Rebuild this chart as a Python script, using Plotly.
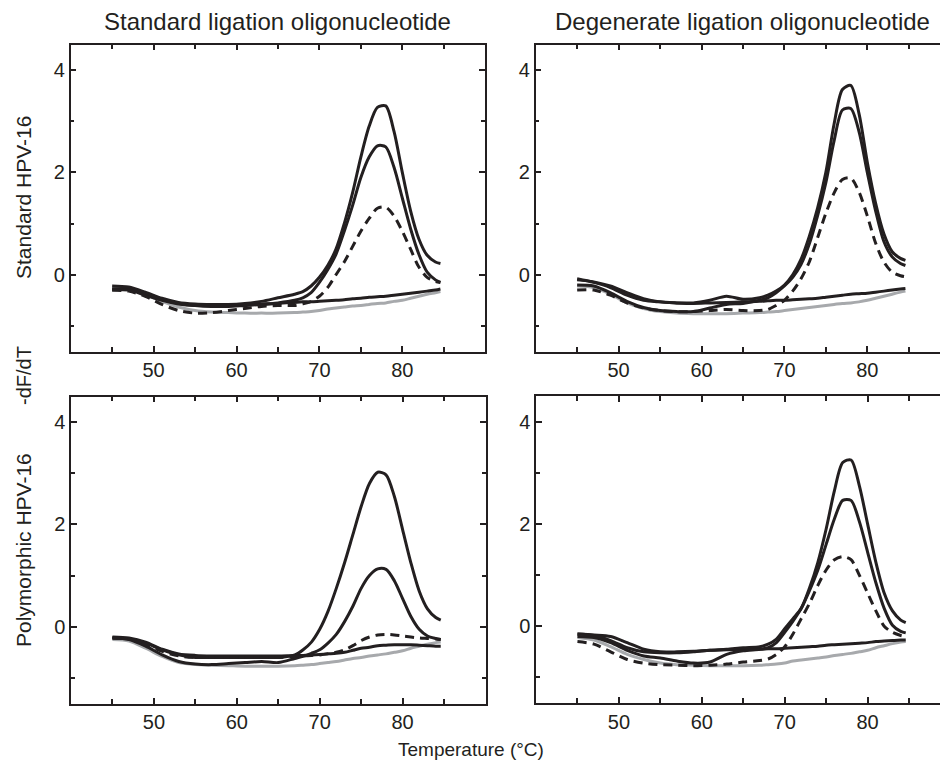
import plotly.graph_objects as go

# shared temperature grid (°C)
temps = [45, 47, 49, 51, 53, 55, 57, 59, 61, 63, 65, 67, 68, 69, 70, 71, 72, 73, 74, 75,
         76, 77, 78, 79, 80, 81, 82, 83, 84, 84.6]

col_titles = ["Standard ligation oligonucleotide", "Degenerate ligation oligonucleotide"]
row_titles = ["Standard HPV-16", "Polymorphic HPV-16"]
x_ticks = [50, 60, 70, 80]
x_minor = [45, 55, 65, 75, 85]
y_ticks = [0, 2, 4]
y_minor = [-1, 1, 3]

# ---- Standard HPV-16, standard ligation oligo (top-left)
tl_gray = [-0.25, -0.27, -0.38, -0.52, -0.63, -0.70, -0.73, -0.74, -0.75, -0.75, -0.75, -0.74, -0.73, -0.72, -0.70, -0.67, -0.65, -0.63, -0.61, -0.60, -0.58, -0.56, -0.55, -0.52, -0.50, -0.46, -0.42, -0.38, -0.35, -0.33]
tl_base = [-0.30, -0.30, -0.40, -0.50, -0.57, -0.60, -0.60, -0.60, -0.58, -0.57, -0.56, -0.54, -0.53, -0.53, -0.52, -0.51, -0.50, -0.49, -0.47, -0.46, -0.44, -0.43, -0.42, -0.40, -0.38, -0.36, -0.34, -0.32, -0.30, -0.28]
tl_high = [-0.22, -0.24, -0.34, -0.46, -0.54, -0.57, -0.58, -0.58, -0.56, -0.52, -0.45, -0.38, -0.33, -0.22, -0.05, 0.18, 0.50, 1.00, 1.60, 2.30, 2.90, 3.27, 3.30, 2.80, 2.00, 1.25, 0.70, 0.38, 0.25, 0.22]
tl_mid = [-0.28, -0.28, -0.36, -0.48, -0.56, -0.60, -0.62, -0.62, -0.60, -0.58, -0.55, -0.50, -0.45, -0.35, -0.15, 0.10, 0.40, 0.85, 1.35, 1.90, 2.30, 2.52, 2.50, 2.10, 1.50, 0.90, 0.40, 0.05, -0.10, -0.15]
tl_dash = [-0.30, -0.32, -0.42, -0.58, -0.70, -0.75, -0.74, -0.70, -0.66, -0.62, -0.60, -0.60, -0.57, -0.52, -0.42, -0.25, 0.00, 0.25, 0.55, 0.85, 1.10, 1.30, 1.32, 1.15, 0.85, 0.50, 0.15, -0.05, -0.13, -0.15]

# ---- Standard HPV-16, degenerate ligation oligo (top-right)
tr_gray = [-0.22, -0.25, -0.38, -0.55, -0.66, -0.72, -0.75, -0.76, -0.76, -0.76, -0.75, -0.74, -0.73, -0.72, -0.70, -0.68, -0.66, -0.64, -0.62, -0.60, -0.58, -0.56, -0.55, -0.53, -0.50, -0.46, -0.42, -0.38, -0.34, -0.32]
tr_base = [-0.10, -0.14, -0.22, -0.35, -0.47, -0.53, -0.55, -0.56, -0.55, -0.54, -0.53, -0.52, -0.51, -0.50, -0.50, -0.49, -0.48, -0.47, -0.46, -0.44, -0.42, -0.40, -0.38, -0.37, -0.36, -0.34, -0.32, -0.30, -0.28, -0.27]
tr_high = [-0.08, -0.15, -0.25, -0.40, -0.50, -0.53, -0.55, -0.55, -0.50, -0.42, -0.48, -0.45, -0.40, -0.32, -0.20, 0.00, 0.30, 0.75, 1.30, 2.00, 2.95, 3.62, 3.70, 3.15, 2.20, 1.40, 0.80, 0.45, 0.32, 0.28]
tr_mid = [-0.20, -0.22, -0.35, -0.52, -0.64, -0.70, -0.72, -0.72, -0.65, -0.58, -0.56, -0.50, -0.45, -0.35, -0.22, -0.05, 0.20, 0.60, 1.15, 1.80, 2.62, 3.22, 3.25, 2.80, 2.00, 1.25, 0.65, 0.35, 0.22, 0.18]
tr_dash = [-0.30, -0.30, -0.40, -0.55, -0.65, -0.70, -0.72, -0.72, -0.70, -0.68, -0.70, -0.70, -0.68, -0.60, -0.50, -0.32, -0.08, 0.25, 0.72, 1.20, 1.60, 1.86, 1.89, 1.62, 1.15, 0.62, 0.25, 0.05, -0.02, -0.04]

# ---- Polymorphic HPV-16, standard ligation oligo (bottom-left)
bl_gray = [-0.25, -0.28, -0.42, -0.58, -0.70, -0.74, -0.75, -0.76, -0.77, -0.77, -0.77, -0.76, -0.75, -0.74, -0.72, -0.70, -0.68, -0.65, -0.62, -0.60, -0.57, -0.55, -0.53, -0.50, -0.47, -0.42, -0.38, -0.34, -0.31, -0.30]
bl_base = [-0.20, -0.22, -0.30, -0.44, -0.53, -0.56, -0.57, -0.57, -0.57, -0.57, -0.57, -0.56, -0.56, -0.55, -0.54, -0.53, -0.52, -0.50, -0.46, -0.42, -0.40, -0.37, -0.36, -0.35, -0.35, -0.35, -0.36, -0.37, -0.38, -0.38]
bl_high = [-0.22, -0.24, -0.32, -0.45, -0.55, -0.60, -0.60, -0.60, -0.60, -0.60, -0.60, -0.55, -0.45, -0.30, -0.05, 0.30, 0.75, 1.25, 1.80, 2.35, 2.80, 3.02, 2.97, 2.55, 1.90, 1.25, 0.70, 0.35, 0.18, 0.13]
bl_mid = [-0.22, -0.25, -0.38, -0.55, -0.68, -0.73, -0.74, -0.72, -0.70, -0.68, -0.70, -0.62, -0.58, -0.52, -0.45, -0.32, -0.15, 0.10, 0.40, 0.75, 1.00, 1.13, 1.12, 0.90, 0.55, 0.20, -0.05, -0.18, -0.23, -0.25]
bl_dash = [-0.22, -0.24, -0.34, -0.48, -0.57, -0.60, -0.60, -0.60, -0.60, -0.60, -0.60, -0.58, -0.57, -0.56, -0.55, -0.53, -0.50, -0.45, -0.37, -0.27, -0.20, -0.16, -0.15, -0.16, -0.18, -0.20, -0.22, -0.23, -0.24, -0.25]

# ---- Polymorphic HPV-16, degenerate ligation oligo (bottom-right)
br_gray = [-0.22, -0.27, -0.40, -0.55, -0.65, -0.72, -0.75, -0.76, -0.77, -0.77, -0.77, -0.76, -0.75, -0.74, -0.72, -0.68, -0.66, -0.64, -0.62, -0.60, -0.57, -0.55, -0.53, -0.50, -0.47, -0.42, -0.38, -0.34, -0.31, -0.30]
br_base = [-0.15, -0.17, -0.20, -0.32, -0.45, -0.50, -0.50, -0.49, -0.47, -0.46, -0.45, -0.45, -0.44, -0.44, -0.43, -0.42, -0.41, -0.40, -0.39, -0.37, -0.36, -0.35, -0.34, -0.33, -0.32, -0.30, -0.29, -0.28, -0.27, -0.27]
br_high = [-0.15, -0.18, -0.28, -0.42, -0.50, -0.52, -0.52, -0.50, -0.47, -0.45, -0.42, -0.40, -0.35, -0.25, -0.05, 0.15, 0.35, 0.75, 1.25, 1.90, 2.65, 3.20, 3.25, 2.75, 2.00, 1.25, 0.65, 0.30, 0.12, 0.07]
br_mid = [-0.20, -0.22, -0.32, -0.47, -0.58, -0.62, -0.68, -0.72, -0.70, -0.55, -0.48, -0.45, -0.42, -0.32, -0.12, 0.10, 0.35, 0.70, 1.10, 1.60, 2.10, 2.46, 2.46, 2.05, 1.45, 0.85, 0.35, 0.02, -0.10, -0.13]
br_dash = [-0.30, -0.35, -0.50, -0.65, -0.72, -0.75, -0.76, -0.77, -0.76, -0.74, -0.70, -0.67, -0.64, -0.55, -0.40, -0.15, 0.15, 0.45, 0.80, 1.10, 1.30, 1.36, 1.30, 1.00, 0.65, 0.30, 0.00, -0.12, -0.18, -0.20]

panels = [
    (tl_gray, tl_base, tl_high, tl_mid, tl_dash),
    (tr_gray, tr_base, tr_high, tr_mid, tr_dash),
    (bl_gray, bl_base, bl_high, bl_mid, bl_dash),
    (br_gray, br_base, br_high, br_mid, br_dash),
]

W, H = 940, 762
INK = "#231f20"
FONT = "Liberation Sans, Arial, Helvetica, sans-serif"

# panel boxes in pixels: (left, right, top, bottom)
boxes = [
    (70.7, 485.0, 44.5, 351.5),
    (535.7, 940.0, 44.5, 351.5),
    (71.0, 485.5, 396.5, 703.5),
    (536.0, 940.0, 396.0, 703.0),
]
px_per_deg = 8.29

fig = go.Figure()
for i, (series, box) in enumerate(zip(panels, boxes)):
    n = "" if i == 0 else str(i + 1)
    xa, ya = "x" + n, "y" + n
    gray, base, high, mid, dash = series
    fig.add_trace(go.Scatter(x=temps, y=gray, mode="lines", xaxis=xa, yaxis=ya,
                             line=dict(color="#a7a9ac", width=3, shape="spline", smoothing=0.8)))
    for s in (base, mid, high):
        fig.add_trace(go.Scatter(x=temps, y=s, mode="lines", xaxis=xa, yaxis=ya,
                                 line=dict(color=INK, width=3, shape="spline", smoothing=0.8)))
    fig.add_trace(go.Scatter(x=temps, y=dash, mode="lines", xaxis=xa, yaxis=ya,
                             line=dict(color=INK, width=3, dash="9px,6px", shape="spline", smoothing=0.8)))

    l, r, t, b = box
    right_col = i % 2 == 1
    xmax = 40 + (r - l) / px_per_deg
    xkey = "xaxis" + n
    ykey = "yaxis" + n
    fig.layout[xkey] = dict(
        domain=[l / W, r / W], range=[40, xmax], anchor=ya,
        showgrid=False, zeroline=False, showline=True, linecolor=INK, linewidth=1.5,
        mirror="allticks", ticks="inside", ticklen=6, tickwidth=1.5, tickcolor=INK,
        tickvals=x_ticks, ticktext=[str(v) for v in x_ticks],
        minor=dict(tickvals=x_minor, ticks="inside", ticklen=5, tickwidth=1.5, tickcolor=INK),
        tickfont=dict(family=FONT, size=20, color=INK), fixedrange=True,
    )
    fig.layout[ykey] = dict(
        domain=[1 - b / H, 1 - t / H], range=[-1.5, 4.5], anchor=xa,
        showgrid=False, zeroline=False, showline=True, linecolor=INK, linewidth=1.5,
        mirror=(False if right_col else "allticks"), ticks="inside", ticklen=6, tickwidth=1.5,
        tickcolor=INK, tickvals=y_ticks, ticktext=[str(v) for v in y_ticks],
        minor=dict(tickvals=y_minor, ticks="inside", ticklen=4, tickwidth=1.5, tickcolor=INK),
        tickfont=dict(family=FONT, size=20, color=INK), fixedrange=True,
    )

ann = []
for txt, cx in zip(col_titles, [277, 742]):
    ann.append(dict(text=txt, x=cx / W, y=1 - 22 / H, xref="paper", yref="paper",
                    showarrow=False, xanchor="center", yanchor="middle",
                    font=dict(family=FONT, size=24, color=INK)))
for txt, cy in zip(row_titles, [198, 550]):
    ann.append(dict(text=txt, x=23 / W, y=1 - cy / H, xref="paper", yref="paper",
                    showarrow=False, xanchor="center", yanchor="middle", textangle=-90,
                    font=dict(family=FONT, size=21, color=INK)))
ann.append(dict(text="-dF/dT", x=24 / W, y=1 - 376 / H, xref="paper", yref="paper",
                showarrow=False, xanchor="center", yanchor="middle", textangle=-90,
                font=dict(family=FONT, size=20, color=INK)))
ann.append(dict(text="Temperature (°C)", x=471 / W, y=1 - 749 / H, xref="paper", yref="paper",
                showarrow=False, xanchor="center", yanchor="middle",
                font=dict(family=FONT, size=19, color=INK)))

fig.update_layout(
    width=W, height=H, margin=dict(l=0, r=0, t=0, b=0),
    paper_bgcolor="white", plot_bgcolor="white", showlegend=False,
    annotations=ann,
)

fig.write_html("out.html", config={"displayModeBar": False},
               post_script="document.body.style.margin='0';document.body.style.overflow='hidden';")
